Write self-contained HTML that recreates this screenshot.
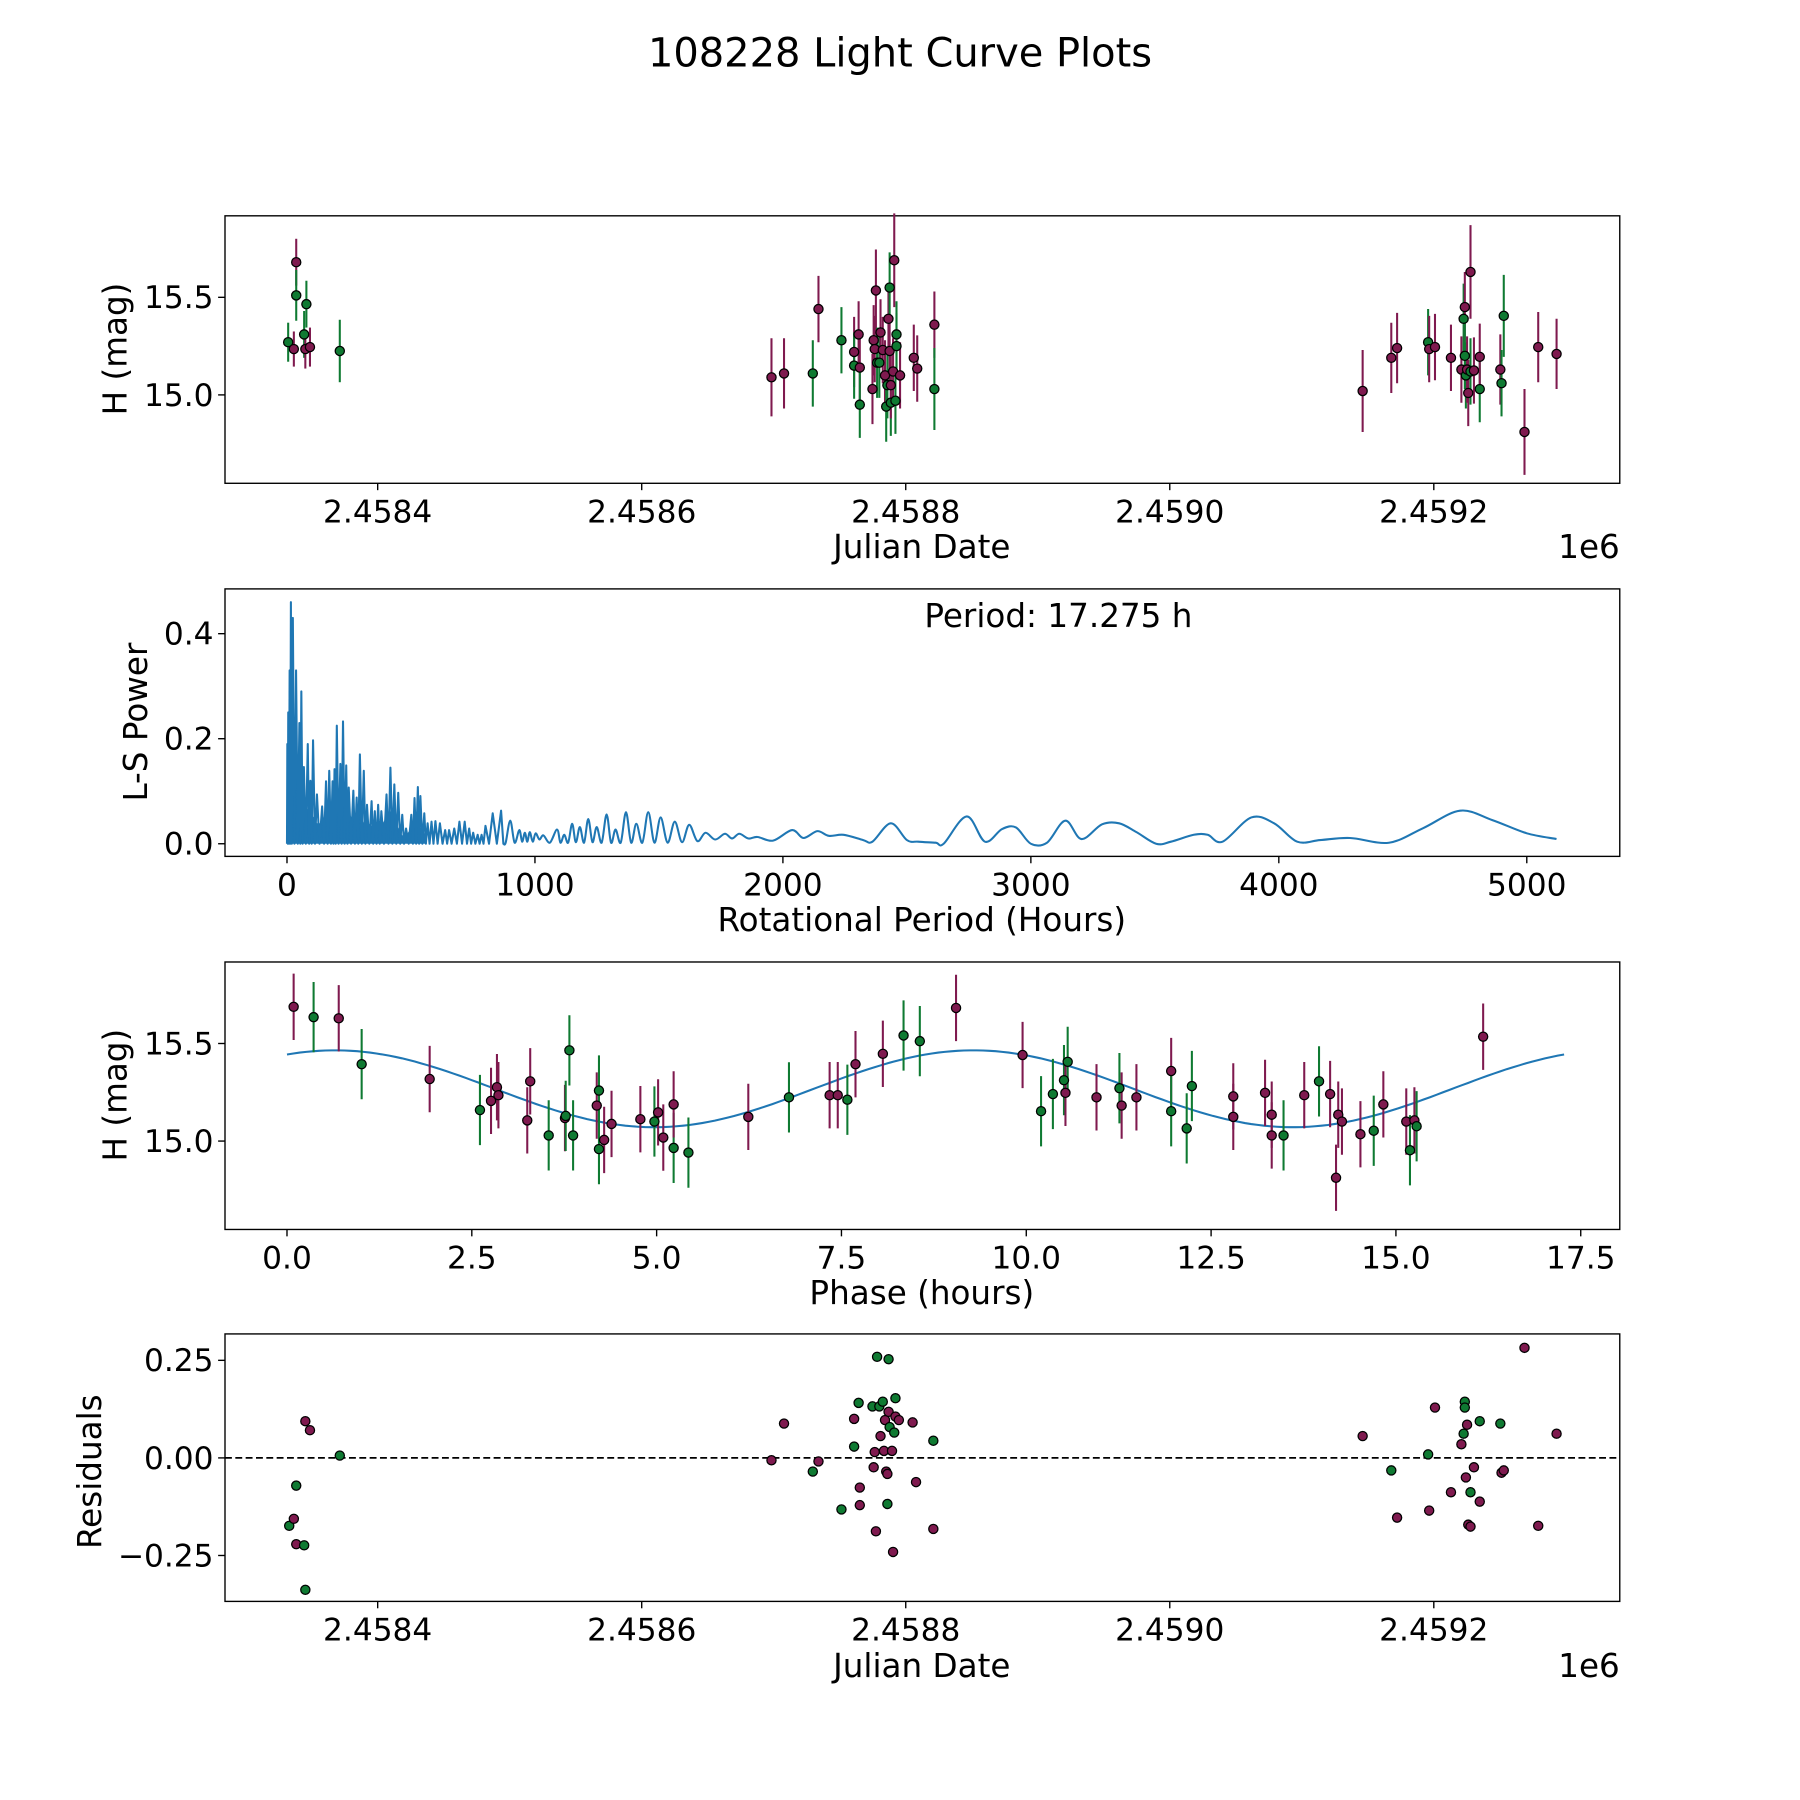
<!DOCTYPE html>
<html><head><meta charset="utf-8"><style>
html,body{margin:0;padding:0;background:#fff;}
svg{display:block;font-family:"DejaVu Sans","Liberation Sans",sans-serif;}
</style></head><body>
<svg id="fig" width="1800" height="1800" viewBox="0 0 1568 1568" xmlns="http://www.w3.org/2000/svg">
<rect width="1568" height="1568" fill="#fff"/>
<text x="784" y="58" font-size="34.8" text-anchor="middle">108228 Light Curve Plots</text>
<g id="g1"></g>
<g id="g2"></g>
<g id="g3"></g>
<g id="g4"></g>
</svg>
<script>
// ---- Panel 1 data: days = JD - 2458000, magnitude, error, filter (g/p)
const lcDay=[332.2,336.5,338.3,338.3,344.3,345.2,346,348.7,371.3,698.3,707.8,729.6,733.9,751.3,760.9,760.9,764.3,765.2,765.2,774.8,775.7,776.5,777.4,778.3,780,780.9,782.6,784.3,785.2,786.1,786.9,787.8,787.8,788.7,788.7,790.4,791.3,792.2,793,793,795.7,806.1,808.7,821.7,821.7,1146.1,1167.8,1172.2,1195.7,1196.5,1200.9,1213,1220.9,1222.6,1223.5,1223.5,1224.3,1225.2,1226.1,1227.8,1227.8,1230.4,1234.8,1234.8,1250.4,1251.3,1253,1268.7,1279.1,1293];
const lcMag=[15.27,15.235,15.68,15.51,15.31,15.235,15.465,15.245,15.225,15.09,15.11,15.11,15.44,15.28,15.22,15.15,15.31,15.14,14.95,15.03,15.28,15.235,15.535,15.165,15.165,15.32,15.23,15.1,14.94,15.05,15.39,15.55,15.225,14.96,15.05,15.12,15.69,14.97,15.31,15.25,15.1,15.19,15.135,15.36,15.03,15.02,15.19,15.24,15.27,15.235,15.245,15.19,15.13,15.39,15.45,15.2,15.1,15.13,15.01,15.63,15.12,15.125,15.03,15.195,15.13,15.06,15.405,14.81,15.245,15.21];
const lcErr=[0.1,0.09,0.12,0.13,0.12,0.1,0.12,0.1,0.16,0.2,0.18,0.17,0.17,0.17,0.18,0.17,0.17,0.17,0.17,0.18,0.18,0.17,0.21,0.18,0.18,0.17,0.17,0.18,0.18,0.17,0.18,0.18,0.17,0.17,0.17,0.17,0.24,0.17,0.17,0.17,0.17,0.17,0.17,0.17,0.21,0.21,0.18,0.18,0.17,0.17,0.17,0.17,0.17,0.18,0.18,0.17,0.17,0.17,0.17,0.24,0.17,0.17,0.17,0.17,0.18,0.17,0.21,0.22,0.18,0.18];
const lcFilt=["g","p","p","g","g","p","g","p","g",
 "p","p","g","p","g","p","g","p","p","g","p","p","p","p","g","g","p","p","p","g","g","p","g","p","g","p","p","p","g","g","g","p","p","p","p","g",
 "p","p","p","g","p","p","p","p","g","p","g","g","p","p","p","g","p","g","p","p","g","g","p","p","p"];
// ---- Panel 2 data: Lomb-Scargle periodogram
const peakPeriod=[1.3,5,10.5,15.7,23.6,36.7,49.9,57.7,68,84,94.5,105,120.7,141.7,157.5,170.6,183.7,191.6,200.8,215.2,225.7,238.8,249.3,267.7,280.8,294,309.7,322.8,341.2,354.3,367.5,380.6,401.6,417.3,433.1,448.8,464.6,480.3,501.3,514.4,527.6,538.1,553.8,566.9,582.7,598.4,616.8,637.8,653.5,674.5,695.5,716.5,734.9,750.7,769,784.8,800.5,829.4,863.5];
const peakPower=[0.19,0.25,0.33,0.46,0.43,0.33,0.23,0.29,0.146,0.19,0.12,0.197,0.094,0.071,0.119,0.139,0.119,0.142,0.225,0.152,0.233,0.149,0.107,0.101,0.088,0.17,0.139,0.074,0.081,0.062,0.074,0.062,0.094,0.145,0.113,0.097,0.055,0.029,0.055,0.087,0.108,0.091,0.058,0.039,0.042,0.043,0.039,0.026,0.026,0.029,0.042,0.042,0.029,0.021,0.017,0.017,0.034,0.058,0.063];
const tailPeriod=[882,900.3,918,937,948,959.3,969,979,991,1002.6,1018,1034,1060,1089,1103,1118,1134,1150,1165,1181,1198,1215,1232,1249,1269,1289,1307,1325,1346,1367,1388,1409,1433,1457,1482,1507,1535,1564,1593,1622,1655,1688,1727,1766,1795,1824,1861,1898,1960,2037,2083,2139,2185,2245,2324,2361,2435,2500,2546,2616,2648,2741,2815,2884,2940,3000,3065,3139,3204,3287,3356,3426,3505,3565,3657,3713,3773,3889,3981,4074,4167,4287,4444,4583,4731,4861,5000,5120];
const tailPower=[0.002,0.044,0.002,0.026,0.004,0.021,0.004,0.022,0.004,0.02,0.008,0.016,0.002,0.027,0.002,0.017,0.002,0.038,0.003,0.032,0.002,0.047,0.003,0.032,0.002,0.056,0.002,0.027,0.002,0.06,0.002,0.038,0.002,0.06,0.002,0.05,0.002,0.042,0.003,0.036,0.005,0.021,0.008,0.019,0.01,0.019,0.01,0.013,0.006,0.026,0.011,0.024,0.015,0.017,0.007,0.004,0.039,0.007,0.004,0.002,0,0.052,0.004,0.028,0.031,0,0.002,0.044,0.009,0.037,0.039,0.022,0,0.004,0.017,0.017,0.004,0.05,0.039,0.004,0.007,0.011,0.002,0.03,0.063,0.045,0.02,0.009];
// ---- Panel 3 data: phase folded
const phHours=[0.09,0.36,0.70,1.01,1.93,2.61,2.76,2.84,2.86,3.25,3.29,3.54,3.76,3.77,3.82,3.87,4.19,4.22,4.22,4.29,4.39,4.78,4.97,5.02,5.09,5.23,5.23,5.43,6.24,6.79,7.34,7.45,7.58,7.69,8.06,8.34,8.56,9.05,9.95,10.20,10.36,10.51,10.53,10.56,10.95,11.26,11.29,11.49,11.96,11.96,12.17,12.24,12.80,12.80,13.23,13.32,13.32,13.48,13.76,13.96,14.11,14.19,14.22,14.27,14.52,14.70,14.83,15.14,15.19,15.25,15.28,16.18];
const phMag=[15.688,15.635,15.629,15.394,15.318,15.159,15.206,15.276,15.235,15.106,15.306,15.029,15.118,15.129,15.465,15.029,15.182,15.259,14.959,15.006,15.088,15.112,15.1,15.147,15.018,14.965,15.188,14.941,15.124,15.224,15.235,15.235,15.212,15.394,15.447,15.541,15.512,15.682,15.441,15.153,15.241,15.312,15.247,15.406,15.224,15.271,15.182,15.224,15.359,15.153,15.065,15.282,15.229,15.124,15.247,15.135,15.029,15.029,15.235,15.306,15.241,14.812,15.135,15.1,15.035,15.053,15.188,15.1,14.953,15.106,15.076,15.535];
const phFilt=["p","g","p","g","p","g","p","p","p","p","p","g","p","g","g","g","p","g","g","p","p","p","g","p","p","g","p","g","p","g","p","p","g","p","p","g","g","p","p","g","g","g","p","g","p","g","p","p","p","g","g","g","p","p","p","p","p","g","p","g","p","p","p","p","p","g","p","p","g","p","g","p"];
const fitMean=15.268, fitAmp=0.197, fitPeak=0.65, period=17.275;
// ---- Panel 4 data: residuals
const resDay=[333,336.5,338.3,338.3,344.3,345.2,345.2,348.7,371.3,698.3,707.8,729.6,733.9,751.3,760.9,764.3,765.2,765.2,760.9,774.8,775.7,776.5,777.4,778.3,780,780.9,782.6,783.5,784.3,785.2,786.1,786.1,787,787,787.8,789.6,790.4,791.3,792.2,792.2,794.8,805.2,807.8,820.9,820.9,1146.1,1167.8,1172.2,1195.7,1196.5,1200.9,1213,1220.9,1222.6,1223.5,1223.5,1224.3,1225.2,1226.1,1227.8,1227.8,1230.4,1234.8,1234.8,1250.4,1251.3,1253,1268.7,1279.1,1293];
const resVal=[-0.174,-0.156,-0.071,-0.221,-0.224,-0.338,0.094,0.071,0.006,-0.006,0.088,-0.035,-0.009,-0.132,0.1,0.141,-0.076,-0.121,0.029,0.132,-0.024,0.015,-0.188,0.259,0.132,0.056,0.144,0.018,0.097,-0.035,-0.118,-0.041,0.253,0.118,0.079,0.018,-0.241,0.065,0.153,0.106,0.097,0.091,-0.062,-0.182,0.044,0.056,-0.032,-0.153,0.009,-0.135,0.129,-0.088,0.035,0.062,0.144,0.129,-0.05,0.085,-0.171,-0.176,-0.088,-0.024,0.094,-0.112,0.088,-0.038,-0.032,0.282,-0.174,0.062];
const resFilt=["g","p","g","p","g","g","p","p","g",
 "p","p","g","p","g","p","g","p","p","g","g","p","p","p","g","g","p","g","p","p","p","g","p","g","p","g","p","p","g","g","p","p","p","p","p","g",
 "p","g","p","g","p","p","p","p","g","g","g","p","p","p","p","g","p","g","p","g","p","p","p","p","p"];
const xTicksJD=[400,600,800,1000,1200];
const xTickJDLabels=["2.4584","2.4586","2.4588","2.4590","2.4592"];
const yTicksMag=[15.0,15.5];
const lsXTicks=[0,1000,2000,3000,4000,5000];
const lsYTicks=[0,0.2,0.4];
const phXTicks=[0,2.5,5,7.5,10,12.5,15,17.5];
const resYTicks=[-0.25,0,0.25];

const NS="http://www.w3.org/2000/svg";
const PURPLE="#7f1a4f", GREEN="#0f7a32", BLUE="#1f77b4";
const TICKFS=27.2, LABFS=28.4;
function mk(parent,tag,attrs){const e=document.createElementNS(NS,tag);for(const k in attrs)e.setAttribute(k,attrs[k]);parent.appendChild(e);return e;}
const L=196,R=1411;
const jdX=d=>329+(d-400)*1.15;
const magY=(top)=>m=>top+71+(15.5-m)*170;
const lsX=p=>250+p*0.216, lsY=v=>735-v*457.5;
const phX=h=>250+h*64.4;
const resY=v=>1270-v*340;

function frame(g,top,name){
  const r=mk(g,'rect',{x:L,y:top,width:R-L,height:233,fill:'none',stroke:'#000','stroke-width':1.2});
  
  
}
function xtick(g,x,y,label){
  mk(g,'line',{x1:x,x2:x,y1:y,y2:y+6,stroke:'#000','stroke-width':1.2});
  const t=mk(g,'text',{x:x,y:y+34,'font-size':TICKFS,'text-anchor':'middle'});t.textContent=label;
  
  
}
function ytick(g,y,label){
  mk(g,'line',{x1:L-6,x2:L,y1:y,y2:y,stroke:'#000','stroke-width':1.2});
  const t=mk(g,'text',{x:L-10,y:y+9.5,'font-size':TICKFS,'text-anchor':'end'});t.textContent=label;
  
  
}
function label(g,x,y,txt,name,rot){
  const t=mk(g,'text',{x:x,y:y,'font-size':LABFS,'text-anchor':'middle'});t.textContent=txt;
  if(rot)t.setAttribute('transform','rotate(-90 '+x+' '+y+')');
  
  
  return t;
}
function point(g,x,y,c,name){
  const p=mk(g,'circle',{cx:x,cy:y,r:4,fill:c,stroke:'#000','stroke-width':1.1});
  
  
}
function errbar(g,x,y1,y2,c){
  const e=mk(g,'line',{x1:x,x2:x,y1:y1,y2:y2,stroke:c,'stroke-width':1.8});
  
  
}
function smooth(pts){
  let d='';
  for(let i=0;i<pts.length-1;i++){
    const p0=pts[Math.max(0,i-1)],p1=pts[i],p2=pts[i+1],p3=pts[Math.min(pts.length-1,i+2)];
    const c1=[p1[0]+(p2[0]-p0[0])/6,p1[1]+(p2[1]-p0[1])/6];
    const c2=[p2[0]-(p3[0]-p1[0])/6,p2[1]-(p3[1]-p1[1])/6];
    d+='C'+c1[0].toFixed(1)+','+c1[1].toFixed(1)+' '+c2[0].toFixed(1)+','+c2[1].toFixed(1)+' '+p2[0].toFixed(1)+','+p2[1].toFixed(1);
  }
  return d;
}
// Panel 1
(function(){
  const g=document.getElementById('g1'),top=188,my=magY(top);
  frame(g,top,'lightcurve');
  xTicksJD.forEach((d,i)=>xtick(g,jdX(d),top+233,xTickJDLabels[i]));
  yTicksMag.forEach(m=>ytick(g,my(m),m.toFixed(1)));
  label(g,803,486,'Julian Date','x-axis-title');
  const e=label(g,1411,486,'1e6','x-offset-label');e.setAttribute('text-anchor','end');
  label(g,110,304,'H (mag)','y-axis-title',true);
  lcDay.forEach((d,i)=>{const c=lcFilt[i]==='g'?GREEN:PURPLE;errbar(g,jdX(d),my(lcMag[i]+lcErr[i]),my(lcMag[i]-lcErr[i]),c);});
  lcDay.forEach((d,i)=>point(g,jdX(d),my(lcMag[i]),lcFilt[i]==='g'?GREEN:PURPLE,'lightcurve-point'));
})();
// Panel 2
(function(){
  const g=document.getElementById('g2'),top=513;
  frame(g,top,'periodogram');
  lsXTicks.forEach(p=>xtick(g,lsX(p),top+233,String(p)));
  lsYTicks.forEach(v=>ytick(g,lsY(v),v.toFixed(1)));
  label(g,803,811,'Rotational Period (Hours)','x-axis-title');
  label(g,128,629,'L-S Power','y-axis-title',true);
  label(g,922,546,'Period: 17.275 h','period-annotation');
  let fp=[[lsX(0),lsY(0)]];
  peakPeriod.forEach((p,i)=>{ if(p<560){const nx=peakPower[Math.min(i+1,peakPower.length-1)];fp.push([lsX(p),lsY(Math.min(peakPower[i],nx)*0.55)]);} });
  fp.push([lsX(560),lsY(0)]);
  const fill=mk(g,'path',{d:'M'+fp.map(q=>q[0].toFixed(1)+','+q[1].toFixed(1)).join('L')+'Z',fill:BLUE,stroke:'none'});
  
  
  let pts=[[lsX(0),lsY(0)]];
  peakPeriod.forEach((p,i)=>{
    pts.push([lsX(p),lsY(peakPower[i])]);
    const np=i<peakPeriod.length-1?peakPeriod[i+1]:tailPeriod[0];
    pts.push([lsX((p+np)/2),lsY(0)]);
  });
  const d1='M'+pts.map(q=>q[0].toFixed(1)+','+q[1].toFixed(1)).join('L');
  const tp=tailPeriod.map((p,i)=>[lsX(p),lsY(tailPower[i])]);
  const last=pts[pts.length-1];
  const d=d1+smooth([last].concat(tp));
  const ln=mk(g,'path',{d:d,fill:'none',stroke:BLUE,'stroke-width':1.8,'stroke-linejoin':'round'});
  
  
})();
// Panel 3
(function(){
  const g=document.getElementById('g3'),top=838,my=magY(top);
  frame(g,top,'phase');
  phXTicks.forEach(h=>xtick(g,phX(h),top+233,h.toFixed(1)));
  yTicksMag.forEach(m=>ytick(g,my(m),m.toFixed(1)));
  label(g,803,1136,'Phase (hours)','x-axis-title');
  label(g,110,954,'H (mag)','y-axis-title',true);
  let d='';
  for(let k=0;k<=200;k++){const h=period*k/200;const m=fitMean+fitAmp*Math.cos(4*Math.PI*(h-fitPeak)/period);d+=(k?'L':'M')+phX(h).toFixed(1)+','+my(m).toFixed(1);}
  const ln=mk(g,'path',{d:d,fill:'none',stroke:BLUE,'stroke-width':1.8});
  
  
  phHours.forEach((h,i)=>{const c=phFilt[i]==='g'?GREEN:PURPLE;const er=phFilt[i]==='g'?0.18:0.17;errbar(g,phX(h),my(phMag[i]+er),my(phMag[i]-er),c);});
  phHours.forEach((h,i)=>point(g,phX(h),my(phMag[i]),phFilt[i]==='g'?GREEN:PURPLE,'phase-point'));
})();
// Panel 4
(function(){
  const g=document.getElementById('g4'),top=1162;
  frame(g,top,'residuals');
  xTicksJD.forEach((d,i)=>xtick(g,jdX(d),top+233,xTickJDLabels[i]));
  resYTicks.forEach(v=>ytick(g,resY(v),(v<0?'\u2212':'')+Math.abs(v).toFixed(2)));
  label(g,803,1461,'Julian Date','x-axis-title');
  const e=label(g,1411,1461,'1e6','x-offset-label');e.setAttribute('text-anchor','end');
  label(g,88,1282,'Residuals','y-axis-title',true);
  const z=mk(g,'line',{x1:L,x2:R,y1:resY(0),y2:resY(0),stroke:'#000','stroke-width':1.5,'stroke-dasharray':'6,3'});
  
  
  resDay.forEach((d,i)=>point(g,jdX(d),resY(resVal[i]),resFilt[i]==='g'?GREEN:PURPLE,'residual-point'));
})();
</script>
</body></html>
